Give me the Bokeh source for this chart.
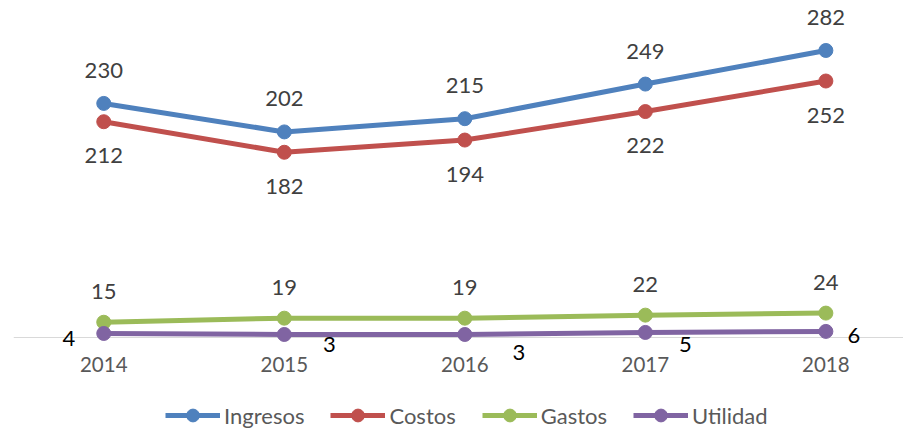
from bokeh.plotting import figure
from bokeh.layouts import column
from bokeh.models import Legend, LegendItem, Span, FixedTicker, Range1d
from bokeh.core.properties import value
from bokeh.embed import file_html
from bokeh.resources import INLINE

years = ["2014", "2015", "2016", "2017", "2018"]
ingresos = [230, 202, 215, 249, 282]
costos = [212, 182, 194, 222, 252]
gastos = [15, 19, 19, 22, 24]
utilidad = [4, 3, 3, 5, 6]

series_names = ["Ingresos", "Costos", "Gastos", "Utilidad"]
series_values = [ingresos, costos, gastos, utilidad]
series_colors = ["#4F81BD", "#C0504D", "#9BBB59", "#8064A2"]

# label offsets in screen pixels
label_dx = [[0] * 5, [0] * 5, [0] * 5, [-35, 45, 54, 40, 28]]
label_dy = [[33] * 5, [-34] * 5, [31] * 5, [-5, -10, -18, -12, -4]]
label_colors = ["#404040", "#404040", "#404040", "#000000"]

idx = list(range(len(years)))

p = figure(frame_width=890, frame_height=364, output_backend="svg", toolbar_location=None,
           x_range=Range1d(-0.5, 4.43), y_range=Range1d(-26.5, 331.1),
           y_axis_location=None,
           min_border_left=13, min_border_right=0, min_border_top=0, min_border_bottom=0)
p.outline_line_color = None
p.grid.visible = False

xa = p.xaxis[0]
xa.ticker = FixedTicker(ticks=idx)
xa.major_label_overrides = {i: y for i, y in zip(idx, years)}
xa.axis_line_color = None
xa.major_tick_line_color = None
xa.minor_tick_line_color = None
xa.major_tick_out = 0
xa.major_tick_in = 0
xa.major_label_standoff = -8
xa.major_label_text_font = "Lato"
xa.major_label_text_font_size = "20.5px"
xa.major_label_text_color = "#595959"

base = Span(location=0, dimension="width", line_color="#D9D9D9", line_width=1, level="underlay")
p.add_layout(base)

# legend panel (its glyph renderers sit outside its visible ranges; only the legend shows)
q = figure(width=903, height=54, output_backend="svg", toolbar_location=None,
           x_range=Range1d(100, 101), y_range=Range1d(1000, 1001),
           x_axis_location=None, y_axis_location=None,
           min_border_left=0, min_border_right=0, min_border_top=0, min_border_bottom=0)
q.outline_line_color = None
q.grid.visible = False

items = []
for name, vals, col, dx, dy, lc in zip(series_names, series_values, series_colors,
                                       label_dx, label_dy, label_colors):
    p.line(idx, vals, line_width=5, line_color=col)
    p.scatter(idx, vals, size=14, fill_color=col, line_color=col)
    p.text(x=idx, y=vals, text=[str(v) for v in vals],
           x_offset=dx, y_offset=[-d for d in dy],
           text_align="center", text_baseline="middle",
           text_font=value("Lato"), text_font_size="22px", text_color=lc)
    ln = q.line(idx, vals, line_width=5, line_color=col)
    sc = q.scatter(idx, vals, size=14, fill_color=col, line_color=col)
    items.append(LegendItem(label=name, renderers=[ln, sc]))

legend = Legend(items=items, orientation="horizontal", location=(152, -3),
                label_text_font="Lato", label_text_font_size="22px",
                label_text_color="#595959", glyph_width=55, glyph_height=32,
                label_standoff=4, spacing=26, padding=0, margin=0,
                border_line_color=None, background_fill_alpha=0)
q.add_layout(legend, "center")

layout = column(p, q, spacing=0)
open("out.html", "w").write(file_html(layout, INLINE))
